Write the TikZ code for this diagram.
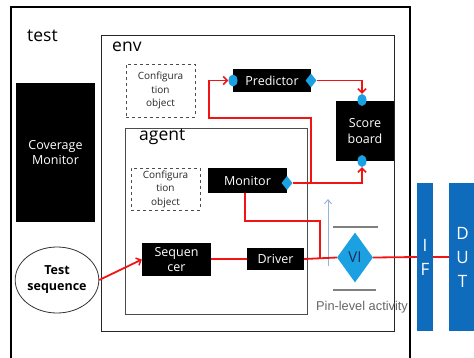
\documentclass[tikz,border=0pt]{standalone}
\usepackage{fontspec}
\setmainfont{Open Sans}
\newfontfamily\arialf{Liberation Sans}
\usetikzlibrary{shapes.geometric,arrows.meta}
\definecolor{portblue}{RGB}{27,161,226}
\definecolor{barblue}{RGB}{15,108,189}
\definecolor{navy}{RGB}{25,45,95}
\definecolor{lightarrow}{RGB}{150,180,215}
\definecolor{wirered}{RGB}{240,20,20}
\tikzset{
  blk/.style={fill=black, text=white, inner sep=0pt, align=center, font=\fontsize{12.5}{15.5}\selectfont},
  cfg/.style={draw=black!70, dashed, line width=0.8pt, inner sep=0pt, align=center, text=black!85, font=\fontsize{10}{13.5}\selectfont},
  port/.style={ellipse, fill=portblue, minimum width=9pt, minimum height=12pt, inner sep=0pt},
  dport/.style={diamond, fill=portblue, minimum width=11pt, minimum height=14pt, inner sep=0pt},
  wire/.style={draw=wirered, line width=1.8pt},
  warrow/.style={wire, -{Straight Barb[length=4pt,width=8pt,line width=1.5pt]}},
  bar/.style={fill=barblue, text=white, inner sep=0pt, align=center, font=\fontsize{17}{24}\selectfont},
  lbl/.style={anchor=west, inner sep=0pt, font=\fontsize{17.5}{20}\selectfont},
  grayline/.style={draw=gray, line width=2.5pt}
}
\begin{document}
\begin{tikzpicture}[x=1pt,y=-1pt]
\useasboundingbox (0,0) rectangle (474,357);
% containers
\draw[line width=1.3pt] (11,362) -- (11,7) -- (410,7) -- (410,362);
\draw[line width=1pt, draw=black!85] (101,35) rectangle (394,331);
\draw[line width=0.9pt, draw=black!70] (125,128) rectangle (307,314);
\node[lbl] (testlbl) at (27,36) {test};
\node[lbl] (envlbl) at (112,47) {env};
\node[lbl] (agentlbl) at (139,137) {agent};
% boxes
\node[cfg, minimum width=69pt, minimum height=53pt] (cfgenv) at (160.5,90.5) {Configura\\tion\\object};
\node[cfg, minimum width=69pt, minimum height=42pt] (cfgagent) at (165.5,189) {Configura\\tion\\object};
\node[blk, minimum width=78pt, minimum height=23pt] (pred) at (272,80.5) {Predictor};
\node[blk, minimum width=58pt, minimum height=60pt] (score) at (365,131) {Score\\board};
\node[blk, minimum width=79pt, minimum height=25pt] (mon) at (247.5,180.5) {Monitor};
\node[blk, minimum width=69pt, minimum height=33pt] (seq) at (176.5,259.5) {Sequen\\cer};
\node[blk, minimum width=57pt, minimum height=22pt] (drv) at (275.5,259) {Driver};
\node[blk, minimum width=79pt, minimum height=139pt] (cov) at (55.5,152.5) {Coverage\\Monitor};
\node[ellipse, draw=black!80, line width=0.8pt, fill=white, minimum width=76pt, minimum height=66pt, inner sep=0pt, align=center, font=\bfseries\fontsize{12.5}{16}\selectfont] (tseq) at (57,280) {Test\\sequence};
\node[bar, minimum width=16pt, minimum height=148pt] (ifb) at (425,257) {I\\F};
\node[bar, minimum width=27pt, minimum height=148pt] (dut) at (462.5,257) {D\\U\\T};
% pin level
\coordinate (gb1a) at (333,227); \coordinate (gb1b) at (378,227);
\coordinate (gb2a) at (333,290); \coordinate (gb2b) at (376,290);
\draw[grayline] (gb1a) -- (gb1b);
\draw[grayline] (gb2a) -- (gb2b);
\coordinate (la1) at (328,266); \coordinate (la2) at (328,199);
\draw[draw=lightarrow, line width=1pt, -{Straight Barb[length=4pt,width=7pt]}] (la1) -- (la2);
\node[text=black!60, inner sep=0pt, font=\arialf\fontsize{12.8}{14}\selectfont] (pin) at (362,307) {Pin-level activity};
% ports
\node[port] (pl) at (233,80.5) {};
\node[dport] (pr) at (311,80.5) {};
\node[port] (st) at (362,100) {};
\node[port] (sb) at (362,161) {};
\node[dport] (mr) at (287,183) {};
% wires
\coordinate (br) at (311,183);
\coordinate (fb1) at (311,118);
\coordinate (fb2) at (209,118);
\coordinate (fb3) at (209,80.5);
\coordinate (mb) at (245,193);
\coordinate (m1) at (245,221);
\coordinate (m2) at (320,221);
\coordinate (m3) at (320,258);
\draw[warrow] (pr.east) -| (st.north);
\draw[warrow] (mr.east) -| (sb.south);
\draw[warrow] (br) -- (fb1) -- (fb2) -- (fb3) -- (pl.west);
\draw[wire] (mb) -- (m1) -- (m2) -- (m3);
\draw[wire] (seq.east |- drv.west) -- (drv.west);
\node[diamond, fill=portblue, minimum width=36pt, minimum height=50pt, inner sep=0pt, text=navy, font=\fontsize{15}{16}\selectfont] (vi) at (355,257.5) {VI};
\draw[wire] (drv.east) -- (vi.west);
\draw[wire] (vi.east) -- (ifb.west);
\draw[wire] (ifb.east) -- (dut.west);
\draw[warrow] (tseq.east) -- (seq.west);
\end{tikzpicture}
\end{document}
